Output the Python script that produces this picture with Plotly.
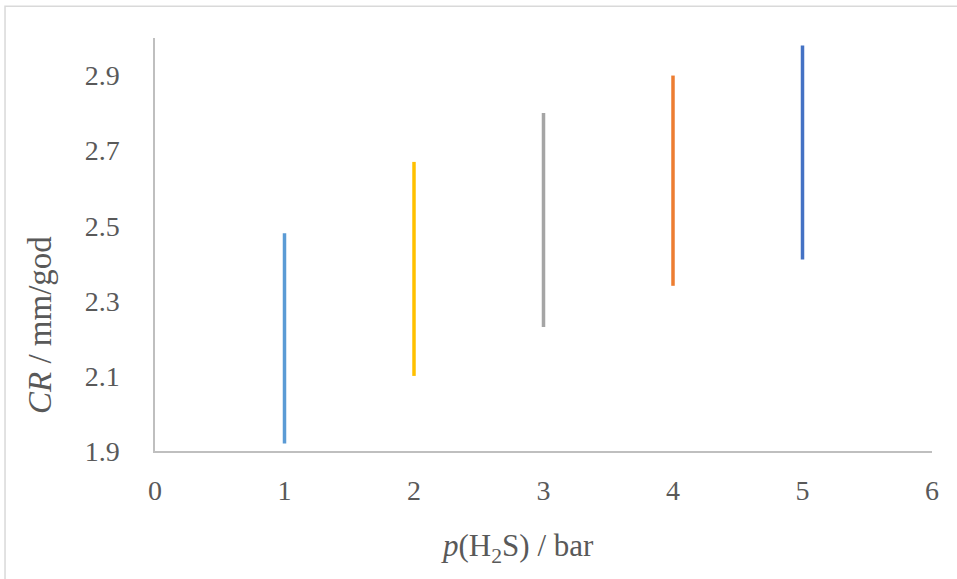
import plotly.graph_objects as go

pressure = [1, 2, 3, 4, 5]
cr_low = [1.92, 2.10, 2.23, 2.34, 2.41]
cr_high = [2.48, 2.67, 2.80, 2.90, 2.98]
colors = ["#5B9BD5", "#FFC000", "#A5A5A5", "#ED7D31", "#4472C4"]

FONT = "Liberation Serif, Times New Roman, serif"

fig = go.Figure()
for p, lo, hi, c in zip(pressure, cr_low, cr_high, colors):
    fig.add_trace(go.Scatter(x=[p, p], y=[lo, hi], mode="lines",
                             line=dict(color=c, width=3.5), showlegend=False,
                             hoverinfo="skip"))

# chart-area border like the Excel frame
fig.add_shape(type="rect", xref="paper", yref="paper",
              x0=-0.193, x1=1.2, y0=-0.5, y1=1.077,
              line=dict(color="#D9D9D9", width=1.5), fillcolor="rgba(0,0,0,0)",
              layer="below")

# axis titles placed as annotations (Excel puts them off-centre)
fig.add_annotation(text="<i>p</i>(H<sub>2</sub>S) / bar", xref="paper", yref="paper",
                   x=0.466, y=-0.235, showarrow=False, xanchor="center", yanchor="middle",
                   font=dict(family=FONT, size=31, color="#595959"))
fig.add_annotation(text="<i>CR</i> / mm/god", xref="paper", yref="paper",
                   x=-0.148, y=0.305, showarrow=False, textangle=-90,
                   xanchor="center", yanchor="middle",
                   font=dict(family=FONT, size=33, color="#595959"))

fig.update_layout(
    width=957, height=579,
    margin=dict(l=155, r=25, t=38, b=128),
    paper_bgcolor="white", plot_bgcolor="white",
    font=dict(family=FONT, size=28, color="#595959"),
    xaxis=dict(range=[0, 6], dtick=1, showgrid=False, zeroline=False,
               showline=True, linecolor="#BFBFBF", linewidth=1.5,
               ticks="", ticklabelstandoff=14),
    yaxis=dict(range=[1.9, 3.0], tick0=1.9, dtick=0.2, tickformat=".1f",
               showgrid=False, zeroline=False,
               showline=True, linecolor="#BFBFBF", linewidth=1.5,
               ticks="", ticklabelstandoff=28),
)

fig.write_html("out.html", config={"displayModeBar": False},
               post_script="document.body.style.margin='0';")
